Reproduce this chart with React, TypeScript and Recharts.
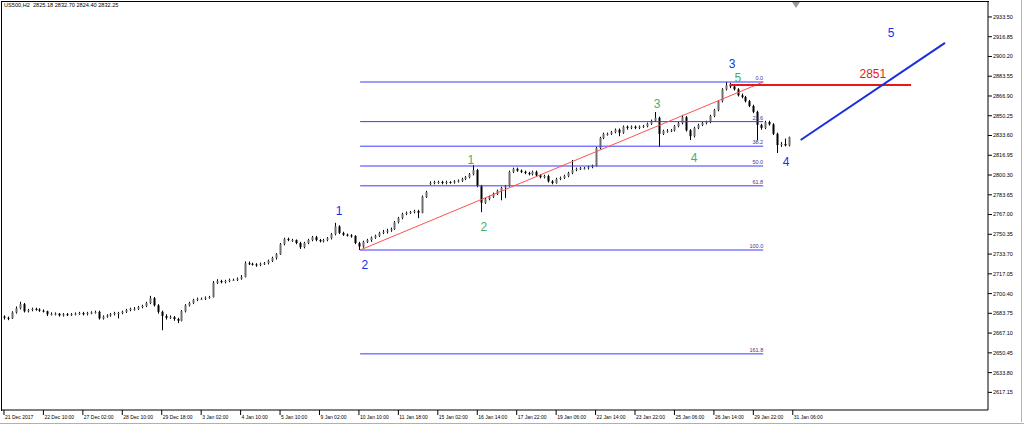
import React from "react";
import {
  ComposedChart,
  Bar,
  XAxis,
  YAxis,
  ReferenceLine,
  ReferenceDot,
} from "recharts";

// ============================================================================
// DATA (US500, H2) - [open, high, low, close] per bar
// ============================================================================
const ohlc: [number, number, number, number][] = [
  [2681, 2682, 2678.5, 2680], [2680, 2681, 2678, 2679.5], [2679.5, 2685.5, 2679, 2684.5],
  [2684.5, 2689.5, 2683.5, 2688], [2688, 2693.5, 2687, 2691.5], [2691.5, 2692.5, 2684.5, 2685.5],
  [2685.5, 2687.5, 2684.5, 2686.5], [2686.5, 2688.5, 2685.5, 2687.5], [2687.5, 2688.5, 2686, 2687],
  [2687, 2688, 2685, 2686], [2686, 2687, 2684.5, 2685.5], [2685.5, 2686, 2681.5, 2683],
  [2683, 2684.5, 2682, 2683], [2683, 2684.5, 2682, 2683.5], [2683.5, 2684, 2681, 2682],
  [2682, 2684, 2681, 2683], [2683, 2684, 2681.5, 2682.5], [2682.5, 2684, 2681.5, 2683],
  [2683, 2684.5, 2682, 2683.5], [2683.5, 2685, 2682.5, 2684], [2684, 2685, 2682, 2683],
  [2683, 2685, 2682, 2684], [2684, 2685.5, 2683, 2684.5], [2684.5, 2686, 2683.5, 2685],
  [2685, 2686, 2678.5, 2679.5], [2679.5, 2682, 2678.5, 2681], [2681, 2683, 2680, 2682],
  [2682, 2684, 2681, 2683], [2683, 2685, 2682, 2684], [2684, 2685, 2679.5, 2684],
  [2684, 2686, 2683, 2685], [2685, 2687.5, 2684, 2686.5], [2686.5, 2688.5, 2685.5, 2687.5],
  [2687.5, 2689, 2686, 2687.5], [2687.5, 2690, 2686.5, 2689], [2689, 2691, 2688, 2690],
  [2690, 2693.5, 2689, 2692.5], [2692.5, 2698.5, 2691.5, 2696.5], [2696.5, 2697.5, 2689.5, 2690.5],
  [2690.5, 2691.5, 2683.5, 2685], [2685, 2686, 2669.5, 2681.5], [2681.5, 2683, 2678.5, 2680],
  [2680, 2682, 2679, 2680.5], [2680.5, 2681.5, 2677.5, 2679], [2679, 2680, 2675.5, 2677.5],
  [2677.5, 2686.5, 2677, 2685.5], [2685.5, 2691.5, 2684.5, 2690.5], [2690.5, 2693.5, 2689.5, 2692.5],
  [2692.5, 2696, 2691.5, 2695], [2695, 2697, 2694, 2696], [2696, 2697, 2695, 2696],
  [2696, 2698, 2695, 2697], [2697, 2698.5, 2696, 2697.5], [2697.5, 2711, 2697, 2709.5],
  [2709.5, 2712.5, 2708.5, 2711], [2711, 2712, 2709, 2710], [2710, 2712, 2709, 2711],
  [2711, 2713, 2710, 2712], [2712, 2713, 2711, 2712], [2712, 2714, 2711, 2713],
  [2713, 2716, 2712, 2714.5], [2714.5, 2727.5, 2714, 2726], [2726, 2727.5, 2724.5, 2725.5],
  [2725.5, 2726.5, 2724, 2725], [2725, 2726, 2723, 2724.5], [2724.5, 2726.5, 2723.5, 2725.5],
  [2725.5, 2727, 2724.5, 2726], [2726, 2729, 2725, 2728], [2728, 2731.5, 2727, 2730.5],
  [2730.5, 2734.5, 2729, 2733.5], [2733.5, 2743, 2733, 2742], [2742, 2747.5, 2741, 2746.5],
  [2746.5, 2747.5, 2744.5, 2745.5], [2745.5, 2746.5, 2744, 2745.5], [2745.5, 2746, 2742, 2743],
  [2743, 2744, 2738, 2739.5], [2739.5, 2744, 2738.5, 2743], [2743, 2746.5, 2742, 2745.5],
  [2745.5, 2749, 2744.5, 2748], [2748, 2749, 2744.5, 2745.5], [2745.5, 2746.5, 2743.5, 2744.5],
  [2744.5, 2746.5, 2743.5, 2745.5], [2745.5, 2748, 2744.5, 2747], [2747, 2751.5, 2746, 2750.5],
  [2750.5, 2760, 2749.5, 2757], [2757, 2758, 2750.5, 2751.5], [2751.5, 2752.5, 2749, 2750],
  [2750, 2751, 2748.5, 2749.5], [2749.5, 2750.5, 2747.5, 2749], [2749, 2749.5, 2742, 2743],
  [2743, 2744, 2737.1, 2740], [2740, 2745, 2739, 2744], [2744, 2746.5, 2743, 2745.5],
  [2745.5, 2748.5, 2744, 2747.5], [2747.5, 2750, 2746.5, 2749], [2749, 2752.5, 2748, 2751.5],
  [2751.5, 2754, 2750.5, 2752.5], [2752.5, 2755, 2751, 2753.5], [2753.5, 2756, 2752.5, 2754.5],
  [2754.5, 2761.5, 2754, 2760.5], [2760.5, 2765, 2759.5, 2764], [2764, 2768.5, 2763, 2767.5],
  [2767.5, 2769.5, 2766.5, 2768.5], [2768.5, 2770, 2767.5, 2769], [2769, 2771, 2768, 2770],
  [2770, 2771, 2764, 2768.5], [2768.5, 2783, 2768, 2782], [2782, 2787, 2781, 2786],
  [2793, 2795, 2792, 2793.5], [2793.5, 2795.5, 2792.5, 2794.5], [2794.5, 2795.5, 2793, 2794.5],
  [2794.5, 2795.5, 2792.5, 2793.5], [2793.5, 2795.5, 2792.5, 2794.5], [2794.5, 2795, 2793, 2794],
  [2794, 2796, 2793, 2795], [2795, 2796.5, 2794, 2795.5], [2795.5, 2798, 2794.5, 2797],
  [2797, 2799.5, 2796, 2798.5], [2798.5, 2802, 2797.5, 2801], [2801, 2808.7, 2800, 2804.5],
  [2804.5, 2805.5, 2790, 2791], [2791, 2792, 2769, 2777], [2777, 2781, 2776, 2780],
  [2780, 2783, 2779, 2782], [2782, 2785.5, 2781, 2784.5], [2784.5, 2788, 2783.5, 2787],
  [2787, 2790.5, 2779, 2789.5], [2789.5, 2792, 2781, 2791], [2791, 2804, 2790.5, 2803],
  [2803, 2806.5, 2802, 2805.5], [2805.5, 2806.5, 2803, 2804], [2804, 2805, 2802, 2803],
  [2803, 2804, 2801, 2802], [2802, 2803, 2800, 2801], [2801, 2804, 2800, 2803],
  [2803, 2804, 2799, 2800], [2800, 2801, 2797.5, 2798.5], [2798.5, 2800.5, 2797.5, 2799.5],
  [2799.5, 2800.5, 2794, 2795], [2795, 2796, 2792.5, 2793.5], [2793.5, 2798, 2793, 2797],
  [2797, 2799, 2796, 2798], [2798, 2800.5, 2797, 2799.5], [2799.5, 2803, 2798.5, 2802],
  [2802, 2813, 2801, 2804.5], [2804.5, 2806.5, 2803.5, 2805.5], [2805.5, 2807, 2804.5, 2806],
  [2806, 2807, 2805, 2806], [2806, 2808, 2805, 2807], [2807, 2809, 2806, 2808],
  [2808, 2824, 2807.5, 2823], [2823, 2832.5, 2822, 2831.5], [2831.5, 2836, 2830.5, 2835],
  [2835, 2836, 2833.5, 2835], [2835, 2837.5, 2834, 2836.5], [2836.5, 2839.5, 2835.5, 2838.5],
  [2838.5, 2839.5, 2833, 2836], [2836, 2842, 2835, 2841], [2841, 2842, 2838.5, 2840],
  [2840, 2842, 2839, 2841], [2841, 2842, 2839, 2840], [2840, 2842, 2839, 2841],
  [2841, 2842.5, 2840, 2841.5], [2841.5, 2844.5, 2840.5, 2843.5], [2843.5, 2847, 2842.5, 2846],
  [2846, 2853.4, 2845, 2848.5], [2848.5, 2849.5, 2823.9, 2835], [2835, 2838.5, 2834, 2837.5],
  [2837.5, 2839, 2836, 2837.5], [2837.5, 2839, 2836.5, 2838], [2838, 2842.5, 2837, 2841.5],
  [2841.5, 2845, 2840.5, 2844], [2844, 2851, 2843, 2849], [2849, 2850, 2837, 2838],
  [2838, 2839, 2829.8, 2833], [2833, 2841, 2832, 2840], [2840, 2843.5, 2839, 2842.5],
  [2842.5, 2845, 2841.5, 2844], [2844, 2846, 2843, 2845], [2845, 2851, 2844, 2850],
  [2850, 2856, 2849, 2855], [2855, 2863.5, 2854, 2862.5], [2862.5, 2873.5, 2861.5, 2872.5],
  [2872.5, 2878.7, 2871.5, 2876], [2876, 2878, 2873.5, 2875], [2875, 2876, 2871.5, 2872.5],
  [2872.5, 2873.5, 2866.5, 2867.5], [2867.5, 2869, 2865, 2866], [2866, 2867, 2861.5, 2862.5],
  [2862.5, 2863.5, 2857.5, 2858.5], [2858.5, 2859.5, 2852.5, 2853.5], [2853.5, 2854.5, 2829.8, 2842.5],
  [2842.5, 2843.5, 2838.5, 2840], [2840, 2846, 2839, 2845], [2845, 2846, 2842, 2843],
  [2843, 2844, 2834, 2835], [2835, 2836, 2818.8, 2825.5], [2825.5, 2828, 2824, 2826.5],
  [2826.5, 2831, 2824.5, 2825.2], [2825.18, 2832.7, 2824.4, 2832.25],
];

// one time label every 10 bars
const timeLabels = [
  "21 Dec 2017", "22 Dec 10:00", "27 Dec 02:00", "28 Dec 10:00", "29 Dec 18:00",
  "3 Jan 02:00", "4 Jan 10:00", "5 Jan 10:00", "9 Jan 02:00", "10 Jan 10:00",
  "11 Jan 18:00", "15 Jan 02:00", "16 Jan 14:00", "17 Jan 22:00", "19 Jan 06:00",
  "22 Jan 14:00", "23 Jan 22:00", "25 Jan 06:00", "26 Jan 14:00", "29 Jan 22:00",
  "31 Jan 06:00",
];

const priceTicks = [
  2617.15, 2633.8, 2650.45, 2667.1, 2683.75, 2700.4, 2717.05, 2733.7, 2750.35, 2767.0,
  2783.65, 2800.3, 2816.95, 2833.6, 2850.25, 2866.9, 2883.55, 2900.2, 2916.85, 2933.5,
];

// fibonacci retracement drawn from bar 90 (low) to bar 183 (high)
const fibNames = ["0.0", "23.6", "38.2", "50.0", "61.8", "100.0", "161.8"];
const fibPrices = [2878.7, 2845.3, 2824.6, 2807.9, 2791.2, 2737.1, 2649.6];
const fibStart = 90.3;
const fibEnd = 192.5;

// wave counts: [text, bar, price]
const blueWaves: [string, number, number][] = [
  ["1", 85, 2770], ["2", 91.5, 2724.4], ["3", 184.6, 2893.9], ["4", 198.3, 2811.3], ["5", 224.9, 2920],
];
const greenWaves: [string, number, number][] = [
  ["1", 118.4, 2813], ["2", 121.7, 2756.5], ["3", 165.6, 2860.2], ["4", 175, 2814.6], ["5", 186.1, 2882.1],
];

const data = ohlc.map(([o, h, l, c], i) => ({ i, o, h, l, c, range: [l, h] }));
const last = ohlc[ohlc.length - 1];
const xTicks = timeLabels.map((_, k) => k * 10);

const FONT = "'Liberation Sans', Arial, sans-serif";

// candle: grey body for up bars, black for down bars
const Candle = (props: any) => {
  const { x, y, width, height, payload } = props;
  if (x == null || y == null) return null;
  const { o, h, l, c } = payload;
  const top = Math.min(y, y + height);
  const bot = Math.max(y, y + height);
  const pix = (v: number) => (h === l ? top : top + ((h - v) / (h - l)) * (bot - top));
  const cx = Math.round(x + width / 2) + 0.5;
  const bTop = pix(Math.max(o, c));
  const bBot = Math.max(pix(Math.min(o, c)), bTop + 1);
  const up = c >= o;
  return (
    <g>
      <line x1={cx} x2={cx} y1={top} y2={bot} stroke="#000" strokeWidth={1} />
      <rect
        x={cx - 1}
        y={bTop}
        width={2}
        height={bBot - bTop}
        fill={up ? "#6e6e6e" : "#000"}
      />
    </g>
  );
};

const PriceTick = ({ x, y, payload }: any) => (
  <g>
    <line x1={x} x2={x + 4} y1={y} y2={y} stroke="#000" />
    <text x={x + 5} y={y} dy="0.35em" fontSize={5.5} fontFamily={FONT} fill="#000">
      {Number(payload.value).toFixed(2)}
    </text>
  </g>
);

const TimeTick = ({ x, y, payload }: any) => (
  <g>
    <line x1={x} x2={x} y1={y} y2={y + 5} stroke="#000" />
    <text x={x + 1} y={y + 9} fontSize={5} fontFamily={FONT} fill="#000">
      {timeLabels[Math.round(payload.value / 10)]}
    </text>
  </g>
);

const Tag = ({ viewBox, text, color, size, anchor = "middle", dy = "0.35em" }: any) => {
  if (!viewBox) return null;
  return (
    <text
      x={viewBox.x}
      y={viewBox.y}
      dy={dy}
      textAnchor={anchor}
      fontSize={size}
      fontFamily={FONT}
      fill={color}
    >
      {text}
    </text>
  );
};

const App = () => {
  return (
    <div
      style={{
        position: "absolute",
        left: 0,
        top: 0,
        width: 1024,
        height: 426,
        background: "#fff",
        fontFamily: FONT,
      }}
    >
      <ComposedChart
        width={1024}
        height={426}
        data={data}
        margin={{ top: 2, right: 0, bottom: 0, left: 2 }}
      >
        <XAxis
          dataKey="i"
          type="number"
          domain={[-0.5, 249.5]}
          ticks={xTicks}
          interval={0}
          allowDataOverflow
          height={16}
          tickLine={false}
          tickSize={0}
          tickMargin={0}
          axisLine={{ stroke: "#000" }}
          tick={<TimeTick />}
        />
        <YAxis
          orientation="right"
          type="number"
          domain={[2602.3, 2946.1]}
          ticks={priceTicks}
          interval={0}
          allowDataOverflow
          width={36}
          tickLine={false}
          tickSize={0}
          tickMargin={0}
          axisLine={{ stroke: "#000" }}
          tick={<PriceTick />}
        />

        {/* fibonacci levels */}
        {fibPrices.map((p, k) => (
          <ReferenceLine
            key={"fib" + k}
            segment={[{ x: fibStart, y: p }, { x: fibEnd, y: p }]}
            stroke="#3a3aff"
            strokeWidth={1}
            ifOverflow="visible"
          />
        ))}
        {fibPrices.map((p, k) => (
          <ReferenceDot
            key={"fibt" + k}
            x={fibEnd}
            y={p}
            r={0}
            fill="none"
            stroke="none"
            ifOverflow="visible"
            label={<Tag text={fibNames[k]} color="#3a3a9a" size={5.5} anchor="end" dy={-2} />}
          />
        ))}

        {/* trend line low -> high */}
        <ReferenceLine
          segment={[{ x: fibStart, y: fibPrices[5] }, { x: fibEnd, y: fibPrices[0] }]}
          stroke="#ff5050"
          strokeWidth={1}
          ifOverflow="visible"
        />
        {/* 2851 target line */}
        <ReferenceLine
          segment={[{ x: 184, y: 2876.2 }, { x: 230, y: 2876.2 }]}
          stroke="#e81818"
          strokeWidth={2}
          ifOverflow="visible"
        />
        {/* projected wave 5 */}
        <ReferenceLine
          segment={[{ x: 202, y: 2829.8 }, { x: 238.6, y: 2911.6 }]}
          stroke="#1a2ee0"
          strokeWidth={2}
          ifOverflow="visible"
        />

        <Bar dataKey="range" barSize={2} shape={<Candle />} isAnimationActive={false} />

        {blueWaves.map(([t, i, p], k) => (
          <ReferenceDot
            key={"bw" + k}
            x={i}
            y={p}
            r={0}
            fill="none"
            stroke="none"
            ifOverflow="visible"
            label={<Tag text={t} color="#1a2ee8" size={12} />}
          />
        ))}
        {greenWaves.map(([t, i, p], k) => (
          <ReferenceDot
            key={"gw" + k}
            x={i}
            y={p}
            r={0}
            fill="none"
            stroke="none"
            ifOverflow="visible"
            label={<Tag text={t} color="#3cb371" size={12} />}
          />
        ))}
        <ReferenceDot
          x={220.3}
          y={2885.5}
          r={0}
          fill="none"
          stroke="none"
          ifOverflow="visible"
          label={<Tag text="2851" color="#e81818" size={12} />}
        />
      </ComposedChart>

      {/* frame left / top */}
      <div
        style={{
          position: "absolute",
          left: 1,
          top: 1,
          width: 987,
          height: 409,
          borderLeft: "1px solid #000",
          borderTop: "1px solid #000",
          pointerEvents: "none",
        }}
      />
      {/* window edges */}
      <div
        style={{
          position: "absolute",
          left: 1021,
          top: 0,
          width: 1,
          height: 422,
          background: "#9fb8d8",
        }}
      />
      <div
        style={{
          position: "absolute",
          left: 0,
          top: 423,
          width: 1024,
          height: 1,
          background: "#b0b0b0",
        }}
      />
      {/* chart shift marker */}
      <div
        style={{
          position: "absolute",
          left: 792,
          top: 2,
          width: 0,
          height: 0,
          borderLeft: "4px solid transparent",
          borderRight: "4px solid transparent",
          borderTop: "6px solid #9a9a9a",
        }}
      />
      <div
        style={{
          position: "absolute",
          left: 4,
          top: 2,
          fontSize: 5.6,
          lineHeight: "7px",
          color: "#000",
          whiteSpace: "pre",
        }}
      >
        {`US500,H2  ${last[0].toFixed(2)} ${last[1].toFixed(2)} ${last[2].toFixed(2)} ${last[3].toFixed(2)}`}
      </div>
    </div>
  );
};

export default App;
